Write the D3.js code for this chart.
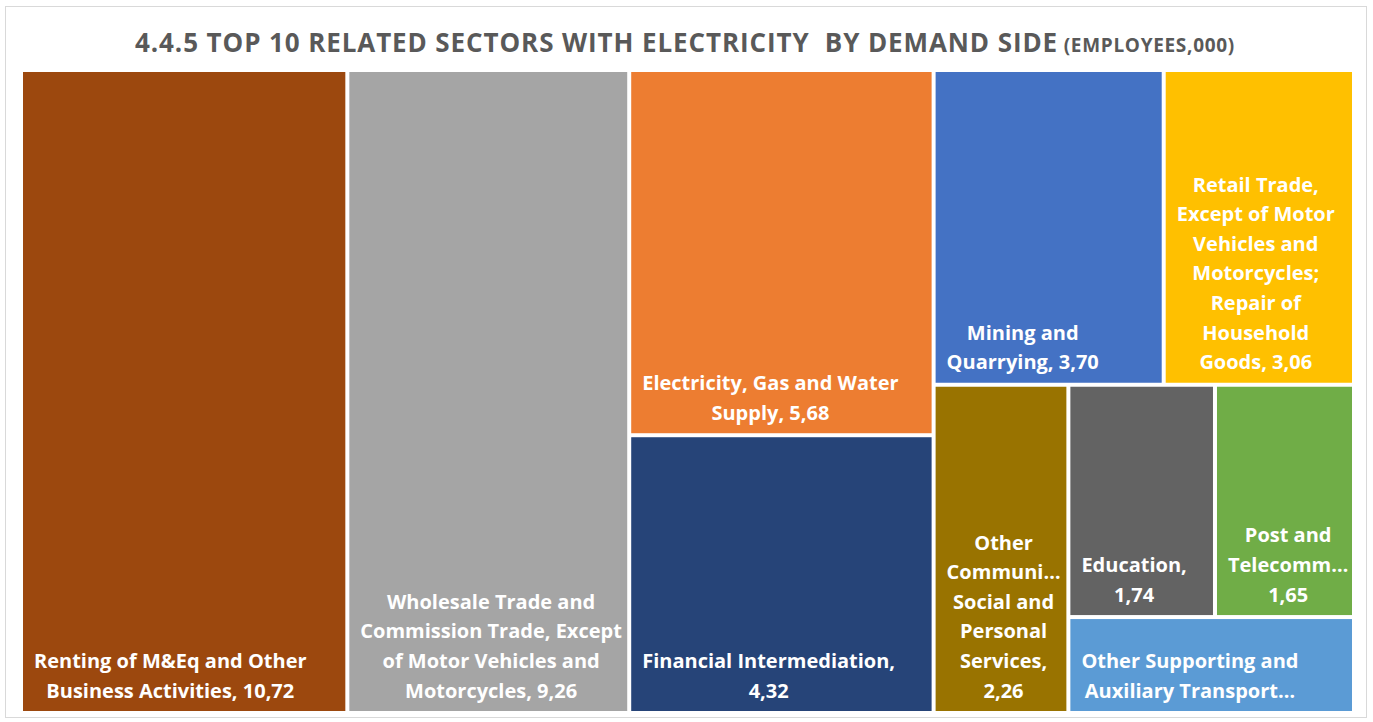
<!DOCTYPE html>
<html>
<head>
<meta charset="utf-8">
<script src="https://cdn.jsdelivr.net/npm/d3@7"></script>
<style>
  html, body { margin: 0; padding: 0; background: #ffffff; }
  svg { display: block; }
</style>
</head>
<body>
<svg id="chart" width="1373" height="722"></svg>
<script>
// Sector names, employees (thousands) and tile colours
const categories = [
  "Renting of M&Eq and Other Business Activities",
  "Wholesale Trade and Commission Trade, Except of Motor Vehicles and Motorcycles",
  "Electricity, Gas and Water Supply",
  "Financial Intermediation",
  "Mining and Quarrying",
  "Retail Trade, Except of Motor Vehicles and Motorcycles; Repair of Household Goods",
  "Other Community, Social and Personal Services",
  "Education",
  "Post and Telecommunications",
  "Other Supporting and Auxiliary Transport Activities"
];
const values = [10.72, 9.26, 5.68, 4.32, 3.70, 3.06, 2.26, 1.74, 1.65, 1.40];
const colors = [
  "#9c480e", "#a5a5a5", "#ed7d31", "#264478", "#4472c4",
  "#ffc000", "#997300", "#636363", "#70ad47", "#5b9bd5"
];
// Label lines as shown in each tile; {v} is replaced by the formatted value
const labelLines = [
  ["Renting of M&Eq and Other", "Business Activities, {v}"],
  ["Wholesale Trade and", "Commission Trade, Except", "of Motor Vehicles and", "Motorcycles, {v}"],
  ["Electricity, Gas and Water", "Supply, {v}"],
  ["Financial Intermediation,", "{v}"],
  ["Mining and", "Quarrying, {v}"],
  ["Retail Trade,", "Except of Motor", "Vehicles and", "Motorcycles;", "Repair of", "Household", "Goods, {v}"],
  ["Other", "Communi\u2026", "Social and", "Personal", "Services,", "{v}"],
  ["Education,", "{v}"],
  ["Post and", "Telecomm\u2026", "{v}"],
  ["Other Supporting and", "Auxiliary Transport\u2026"]
];
const titleMain = "4.4.5 TOP 10 RELATED SECTORS WITH ELECTRICITY\u00a0 BY DEMAND SIDE";
const titleUnit = " (EMPLOYEES,000)";

// Nesting of the tiles: "dice" splits left-to-right, "slice" top-to-bottom
const arrangement = {
  split: "dice",
  children: [
    0,
    1,
    { split: "slice", children: [2, 3] },
    { split: "slice", children: [
      { split: "dice", children: [4, 5] },
      { split: "dice", children: [
        6,
        { split: "slice", children: [ { split: "dice", children: [7, 8] }, 9 ] }
      ] }
    ] }
  ]
};

const fmt = v => v.toFixed(2).replace(".", ",");

function build(n) {
  if (typeof n === "number") {
    return { index: n, name: categories[n], value: values[n], color: colors[n] };
  }
  return { split: n.split, children: n.children.map(build) };
}

const svg = d3.select("#chart");
const fontFamily = "'Open Sans', Lato, sans-serif";

// chart frame
svg.append("rect")
  .attr("x", 5.5).attr("y", 6.5)
  .attr("width", 1361).attr("height", 711)
  .attr("fill", "#ffffff")
  .attr("stroke", "#d9d9d9")
  .attr("stroke-width", 1);

// title
const title = svg.append("text")
  .attr("x", 685).attr("y", 52)
  .attr("text-anchor", "middle")
  .attr("fill", "#595959")
  .style("font-family", fontFamily)
  .style("font-weight", 700);
title.append("tspan").style("font-size", "26px").style("letter-spacing", "0.9px").text(titleMain);
title.append("tspan").style("font-size", "19px").style("letter-spacing", "0.7px").text(titleUnit);

const plot = { x0: 23, y0: 72, x1: 1352, y1: 711 };

const root = d3.hierarchy(build(arrangement))
  .sum(d => d.value || 0);

d3.treemap()
  .size([plot.x1 - plot.x0, plot.y1 - plot.y0])
  .paddingInner(4)
  .paddingOuter(0)
  .tile((node, x0, y0, x1, y1) => {
    (node.data.split === "slice" ? d3.treemapSlice : d3.treemapDice)(node, x0, y0, x1, y1);
  })(root);

const g = svg.append("g").attr("transform", `translate(${plot.x0},${plot.y0})`);

const leaves = root.leaves();

g.selectAll("rect.tile")
  .data(leaves)
  .join("rect")
  .attr("class", "tile")
  .attr("x", d => d.x0)
  .attr("y", d => d.y0)
  .attr("width", d => d.x1 - d.x0)
  .attr("height", d => d.y1 - d.y0)
  .attr("fill", d => d.data.color);

// labels: stacked from the tile bottom, lines centred within a left-aligned block
const fontSize = 20, lineH = 29.6, padL = 11, padB = 21;
leaves.forEach(d => {
  const lines = labelLines[d.data.index].map(s => s.replace("{v}", fmt(d.data.value)));
  const t = g.append("text")
    .attr("fill", "#ffffff")
    .attr("text-anchor", "middle")
    .style("font-family", fontFamily)
    .style("font-weight", 700)
    .style("font-size", fontSize + "px");
  const spans = lines.map((s, i) => t.append("tspan")
    .attr("dominant-baseline", "central")
    .attr("y", d.y1 - padB - (lines.length - 1 - i) * lineH)
    .text(s));
  const blockW = d3.max(spans, s => s.node().getComputedTextLength());
  const cx = d.x0 + padL + blockW / 2;
  spans.forEach(s => s.attr("x", cx));
});
</script>
</body>
</html>
